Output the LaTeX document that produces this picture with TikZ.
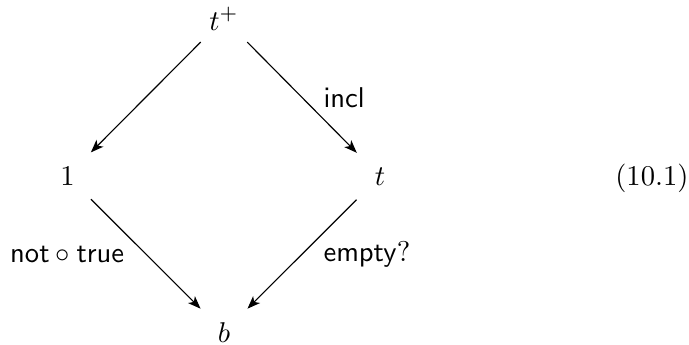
\documentclass[tikz,border=0pt]{standalone}
\usepackage{amsmath,amssymb}
\usepackage{tikz}
\usetikzlibrary{arrows.meta}

\begin{document}
\begin{tikzpicture}[>={Stealth[length=4.5pt,width=3.4pt,inset=1.2pt]},
  obj/.style={anchor=base,minimum size=16pt,inner sep=0pt}]
  \useasboundingbox (-2.753,-0.025) rectangle (5.714,4.203);
  \node[obj] (tp) at (0,3.834) {$t^+$};
  \node[obj] (one) at (-1.923,1.929) {$1$};
  \node[obj] (t) at (1.917,1.929) {$t$};
  \node[obj] (b) at (0,0) {$b$};
  \draw[->] (tp) -- (one);
  \draw[->] (tp) -- node[midway,right=4pt] {$\mathsf{incl}$} (t);
  \draw[->] (one) -- node[midway,left=4pt] {$\mathsf{not}\circ\mathsf{true}$} (b);
  \draw[->] (t) -- node[midway,right=4pt] {$\mathsf{empty}?$} (b);
  \node[anchor=base east,inner sep=0pt] (eqno) at (5.714,1.929) {(10.1)};
\end{tikzpicture}
\end{document}
